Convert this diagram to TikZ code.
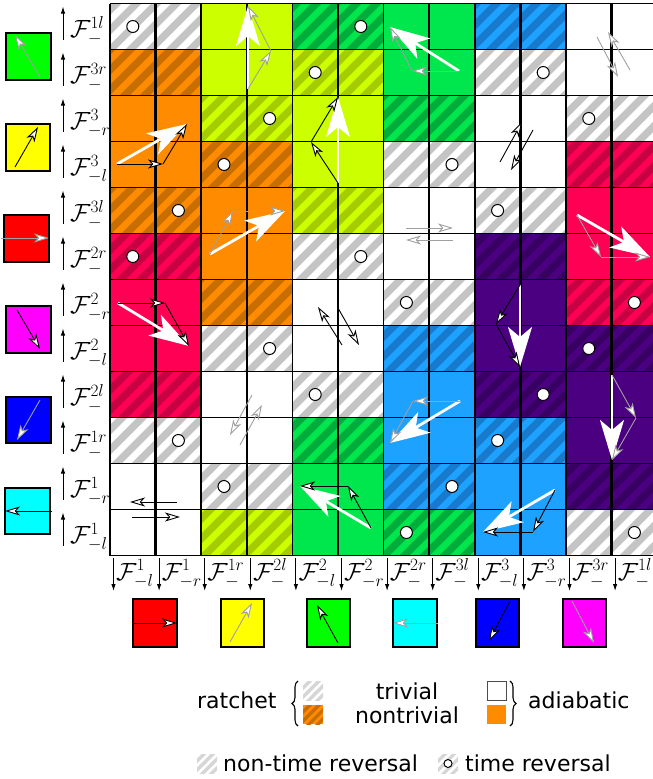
\documentclass[tikz,border=0pt]{standalone}
\usepackage{fontspec}
\newfontfamily\legfont{DejaVu Sans}
\usetikzlibrary{arrows.meta,decorations.pathreplacing}

\definecolor{hgray}{RGB}{196,196,196}
\definecolor{orng}{RGB}{255,140,0}
\definecolor{orngd}{RGB}{200,110,0}
\definecolor{ygrn}{RGB}{204,255,0}
\definecolor{ygrnd}{RGB}{165,204,0}
\definecolor{grn}{RGB}{0,230,77}
\definecolor{grnd}{RGB}{0,172,58}
\definecolor{blu}{RGB}{30,162,255}
\definecolor{blud}{RGB}{24,122,204}
\definecolor{purp}{RGB}{75,0,130}
\definecolor{purpd}{RGB}{57,0,100}
\definecolor{crim}{RGB}{255,0,85}
\definecolor{crimd}{RGB}{200,0,68}
\definecolor{argray}{RGB}{160,160,160}
\definecolor{pgreen}{RGB}{0,255,0}
\definecolor{pyellow}{RGB}{255,255,0}
\definecolor{pred}{RGB}{255,0,0}
\definecolor{pmag}{RGB}{255,0,255}
\definecolor{pblue}{RGB}{0,0,255}
\definecolor{pcyan}{RGB}{0,255,255}

\newcommand\pcell[3]{%
  \pgfmathsetmacro\cx{110+(#1-1)*45.6}%
  \pgfmathsetmacro\cy{3.5+(#2-1)*46}%
  \fill[#3] (\cx,\cy) rectangle ++(45.6,46);}
\newcommand\hcell[4]{%
  \pgfmathsetmacro\cx{110+(#1-1)*45.6}%
  \pgfmathsetmacro\cy{3.5+(#2-1)*46}%
  \pgfmathsetmacro\hs{20*floor((\cx+\cy)/20)}%
  \begin{scope}
    \clip (\cx,\cy) rectangle ++(45.6,46);
    \fill[#3] (\cx,\cy) rectangle ++(45.6,46);
    \foreach \k in {-20,0,...,120}
      \draw[#4, line width=7.1pt] (\hs+\k-\cy+10,\cy-10) -- (\hs+\k-\cy-60,\cy+60);
  \end{scope}}
\newcommand\cellW[2]{\pcell{#1}{#2}{white}}
\newcommand\cellT[2]{\hcell{#1}{#2}{white}{hgray}}
\newcommand\cellO[2]{\pcell{#1}{#2}{orng}}
\newcommand\cello[2]{\hcell{#1}{#2}{orng}{orngd}}
\newcommand\cellY[2]{\pcell{#1}{#2}{ygrn}}
\newcommand\celly[2]{\hcell{#1}{#2}{ygrn}{ygrnd}}
\newcommand\cellG[2]{\pcell{#1}{#2}{grn}}
\newcommand\cellg[2]{\hcell{#1}{#2}{grn}{grnd}}
\newcommand\cellB[2]{\pcell{#1}{#2}{blu}}
\newcommand\cellb[2]{\hcell{#1}{#2}{blu}{blud}}
\newcommand\cellP[2]{\pcell{#1}{#2}{purp}}
\newcommand\cellp[2]{\hcell{#1}{#2}{purp}{purpd}}
\newcommand\cellR[2]{\pcell{#1}{#2}{crim}}
\newcommand\cellr[2]{\hcell{#1}{#2}{crim}{crimd}}
\newcommand\cellrow[2]{\foreach \ct [count=\ci] in {#2} {\csname cell\ct\endcsname{\ci}{#1}}}
\newcommand\vsum[4]{\draw[bigarr] #1 -- #3; \draw[#4] #1 -- #2; \draw[#4] #2 -- #3;}
\newcommand\legsq[4]{%
  \begin{scope}
    \clip (#1,#2) rectangle ++(20,19);
    \fill[#3] (#1,#2) rectangle ++(20,19);
    \foreach \k in {-27,-18,...,36}
      \draw[#4, line width=3.2pt] (#1+\k,#2+25) -- ++(30,-30);
  \end{scope}}

\begin{document}
\begin{tikzpicture}[x=1pt, y=-1pt,
  gridln/.style={black, line width=1.6pt},
  tcirc/.style={draw=black, fill=white, line width=1pt},
  tagarr/.style={black, line width=1pt, -{Latex[length=7pt,width=4.5pt]}},
  flabel/.style={anchor=base west, inner sep=0pt, font=\fontsize{24}{24}\selectfont},
  bigarr/.style={white, line width=2.8pt, -{Stealth[length=40pt,width=24pt,inset=10pt]}},
  barr/.style={black, line width=0.9pt, -{Stealth[length=15pt,width=9pt,inset=4pt,fill=white]}},
  garr/.style={argray, line width=0.9pt, -{Stealth[length=15pt,width=9pt,inset=4pt,fill=white]}},
  lsq/.style={draw=black, line width=1.5pt},
  curly/.style={black, line width=1.1pt, decorate, decoration={brace, amplitude=6pt}},
  legtxt/.style={inner sep=0pt, font=\legfont\fontsize{22}{24}\selectfont}]
\useasboundingbox (0,0) rectangle (653,779);

\cellrow{1}{T,T,Y,Y,g,g,G,G,b,b,W,W}
\cellrow{2}{o,o,Y,Y,y,y,G,G,T,T,W,W}
\cellrow{3}{O,O,y,y,Y,Y,g,g,W,W,T,T}
\cellrow{4}{O,O,o,o,Y,Y,T,T,W,W,r,r}
\cellrow{5}{o,o,O,O,y,y,W,W,T,T,R,R}
\cellrow{6}{r,r,O,O,T,T,W,W,p,p,R,R}
\cellrow{7}{R,R,o,o,W,W,T,T,P,P,r,r}
\cellrow{8}{R,R,T,T,W,W,b,b,P,P,p,p}
\cellrow{9}{r,r,W,W,T,T,B,B,p,p,P,P}
\cellrow{10}{T,T,W,W,g,g,B,B,b,b,P,P}
\cellrow{11}{W,W,T,T,G,G,b,b,B,B,p,p}
\cellrow{12}{W,W,y,y,G,G,g,g,B,B,T,T}

\foreach \i in {0,...,12} \draw[gridln] ({110+\i*45.6},3.5) -- ({110+\i*45.6},555.5);
\foreach \i in {1,3,...,11} \draw[gridln, line width=2.4pt] ({110+\i*45.6},3.5) -- ({110+\i*45.6},555.5);
\foreach \j in {0,...,12} \draw[gridln] (110,{3.5+\j*46}) -- (657.2,{3.5+\j*46});

\foreach \ci/\ri in {1/1,6/1,5/2,10/2,4/3,11/3,3/4,8/4,2/5,9/5,1/6,6/6,7/7,12/7,4/8,11/8,5/9,10/9,2/10,9/10,3/11,8/11,7/12,12/12}
  \draw[tcirc] ({110+(\ci-0.5)*45.6},{3.5+(\ri-0.5)*46}) circle (6pt);

\foreach \ps/\pb [count=\i] in {1l/-,3r/-,3/-r,3/-l,3l/-,2r/-,2/-r,2/-l,2l/-,1r/-,1/-r,1/-l} {
  \draw[tagarr] (63,{3.5+(\i-1)*46+36}) -- (63,{3.5+(\i-1)*46+3});
  \node[flabel] (rl\i) at (70,{3.5+(\i-1)*46+34}) {$\mathcal{F}^{\ps}_{\pb}$};
}
\foreach \ps/\pb [count=\i] in {1/-l,1/-r,1r/-,2l/-,2/-l,2/-r,2r/-,3l/-,3/-l,3/-r,3r/-,1l/-} {
  \draw[tagarr] ({110+(\i-1)*45.6+3.5},558) -- ({110+(\i-1)*45.6+3.5},591);
  \node[flabel] (cl\i) at ({110+(\i-1)*45.6+6},580) {$\mathcal{F}^{\ps}_{\pb}$};
}

\vsum{(117,164)}{(163,164)}{(187,124)}{barr}
\vsum{(248,89)}{(271,51)}{(248,6)}{garr}
\vsum{(210,254)}{(233,211)}{(285,211)}{garr}
\vsum{(338,183)}{(311,142)}{(338,97)}{barr}
\vsum{(459,71)}{(412,71)}{(390,27)}{garr}
\vsum{(577,215)}{(601,257)}{(650,257)}{garr}
\vsum{(118,303)}{(165,303)}{(189,346)}{barr}
\vsum{(460,401)}{(413,401)}{(390,443)}{garr}
\vsum{(520,285)}{(496,324)}{(520,367)}{barr}
\vsum{(612,375)}{(636,418)}{(612,460)}{garr}
\vsum{(371,528)}{(348,486)}{(300,486)}{barr}
\vsum{(555,490)}{(533,532)}{(483,532)}{barr}

\draw[barr] (177,502) -- (130,502);
\draw[barr] (132,517) -- (180,517);
\draw[garr] (252,395) -- (230,435);
\draw[garr] (240,445) -- (262,405);
\draw[barr] (342,345) -- (318,307);
\draw[barr] (338,308) -- (359,345);
\draw[garr] (406,228) -- (453,228);
\draw[garr] (453,240) -- (406,240);
\draw[barr] (500,162) -- (522,122);
\draw[barr] (533,130) -- (511,170);
\draw[garr] (597,37) -- (618,77);
\draw[garr] (630,70) -- (608,32);

\draw[lsq, fill=pgreen] (6,33) rectangle (51,80);
\draw[garr] (40,77) -- (15,35);
\draw[lsq, fill=pyellow] (6,124) rectangle (50,171);
\draw[barr] (15,167) -- (38,127);
\draw[lsq, fill=pred] (4,215) rectangle (49,262);
\draw[garr] (1,238) -- (49,238);
\draw[lsq, fill=pmag] (6,306) rectangle (51,353);
\draw[barr] (17,310) -- (40,349);
\draw[lsq, fill=pblue] (6,397) rectangle (51,443);
\draw[garr] (40,400) -- (17,440);
\draw[lsq, fill=pcyan] (5,488) rectangle (50,534);
\draw[barr] (52,511) -- (5,511);

\draw[lsq, fill=pred] (133,599) rectangle (177,647);
\draw[barr] (132,623) -- (177,623);
\draw[lsq, fill=pyellow] (221,599) rectangle (264,647);
\draw[garr] (230,642) -- (252,603);
\draw[lsq, fill=pgreen] (307,599) rectangle (350,647);
\draw[barr] (338,643) -- (317,605);
\draw[lsq, fill=pcyan] (393,599) rectangle (437,647);
\draw[garr] (438,623) -- (393,623);
\draw[lsq, fill=pblue] (476,599) rectangle (519,647);
\draw[barr] (510,601) -- (489,641);
\draw[lsq, fill=pmag] (563,599) rectangle (606,647);
\draw[garr] (572,601) -- (594,643);

\node[legtxt, anchor=base west] (ratchet) at (197,708) {ratchet};
\coordinate (lbrlo) at (298,726);
\coordinate (lbrhi) at (298,681);
\draw[curly] (lbrlo) -- (lbrhi);
\legsq{303}{681}{white}{hgray!70}
\legsq{303}{705}{orng}{orngd}
\node[legtxt, anchor=base] (trivial) at (407,699) {trivial};
\node[legtxt, anchor=base] (nontrivial) at (407,723) {nontrivial};
\draw[black!70, line width=1pt] (487,681) rectangle ++(19,19);
\fill[orng] (487,705) rectangle ++(19,19);
\coordinate (rbrhi) at (510,681);
\coordinate (rbrlo) at (510,726);
\draw[curly] (rbrhi) -- (rbrlo);
\node[legtxt, anchor=base west] (adiabatic) at (528,708) {adiabatic};
\legsq{197}{754}{white}{hgray!70}
\node[legtxt, anchor=base west] (ntr) at (223,771) {non-time reversal};
\legsq{438}{754}{white}{hgray!70}
\draw[tcirc] (448,763.5) circle (4pt);
\node[legtxt, anchor=base west] (tr) at (465,771) {time reversal};
\end{tikzpicture}
\end{document}
